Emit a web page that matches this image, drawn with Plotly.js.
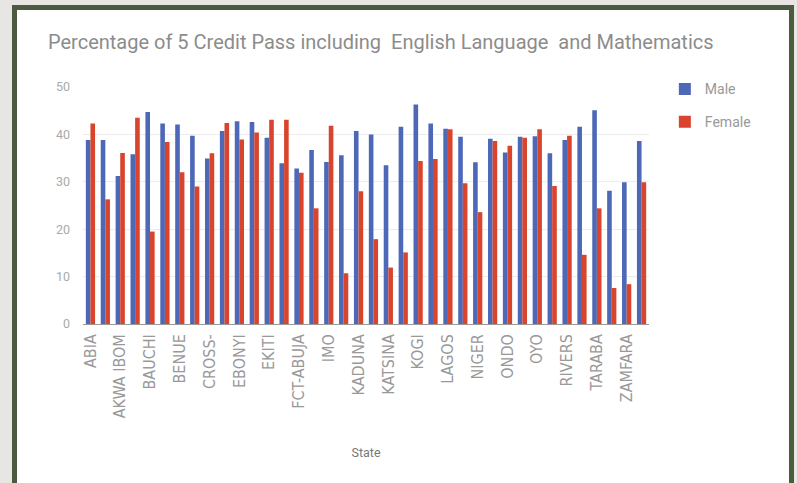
<!DOCTYPE html>
<html>
<head>
<meta charset="utf-8">
<script src="https://cdn.plot.ly/plotly-3.0.1.min.js"></script>
<style>
  html, body { margin: 0; padding: 0; background: #e7e6e2; width: 797px; height: 483px; overflow: hidden; }
  #frame { position: absolute; left: 12px; top: 5px; width: 772px; height: 478px;
           border-left: 5px solid #4b5b3f; border-right: 5px solid #4b5b3f; border-top: 5px solid #4b5b3f;
           background: #ffffff; }
  #chart { width: 772px; height: 473px; }
</style>
</head>
<body>
<div id="frame"><div id="chart"></div></div>
<script>
const states = ["ABIA","ADAMAWA","AKWA IBOM","ANAMBRA","BAUCHI","BAYELSA","BENUE","BORNO",
  "CROSS-RIVER","DELTA","EBONYI","EDO","EKITI","ENUGU","FCT-ABUJA","GOMBE","IMO","JIGAWA",
  "KADUNA","KANO","KATSINA","KEBBI","KOGI","KWARA","LAGOS","NASARAWA","NIGER","OGUN",
  "ONDO","OSUN","OYO","PLATEAU","RIVERS","SOKOTO","TARABA","YOBE","ZAMFARA","TOTAL"];
const male = [38.8,38.8,31.2,35.8,44.7,42.3,42.1,39.7,34.9,40.7,42.8,42.6,39.3,33.9,32.8,36.7,34.2,35.6,
  40.7,40.0,33.5,41.6,46.3,42.3,41.2,39.5,34.1,39.1,36.2,39.5,39.6,36.0,38.8,41.6,45.1,28.1,29.9,38.6];
const female = [42.3,26.3,36.1,43.5,19.5,38.4,32.0,29.0,36.0,42.4,38.9,40.4,43.1,43.1,31.9,24.4,41.8,10.7,
  28.0,17.9,11.9,15.1,34.4,34.8,41.1,29.7,23.6,38.6,37.6,39.3,41.1,29.1,39.7,14.6,24.4,7.6,8.4,29.9];
const tickStates = ["ABIA","AKWA IBOM","BAUCHI","BENUE","CROSS-RIVER","EBONYI","EKITI","FCT-ABUJA","IMO",
  "KADUNA","KATSINA","KOGI","LAGOS","NIGER","ONDO","OYO","RIVERS","TARABA","ZAMFARA"];
const tickLabels = ["ABIA","AKWA IBOM","BAUCHI","BENUE","CROSS-","EBONYI","EKITI","FCT-ABUJA","IMO",
  "KADUNA","KATSINA","KOGI","LAGOS","NIGER","ONDO","OYO","RIVERS","TARABA","ZAMFARA"];
const yTicks = [0,10,20,30,40,50];

const W = 772, H = 473;
const font = "Roboto, 'Noto Sans', Arial, sans-serif";
const narrow = "'Liberation Sans Narrow', 'DejaVu Sans Condensed', Roboto, sans-serif";
const grey = "#999";

const traces = [
  {type: "bar", name: "Male", x: states, y: male, marker: {color: "#4e68b8"}, legend: "legend"},
  {type: "bar", name: "Female", x: states, y: female, marker: {color: "#d8442c"}, legend: "legend2"}
];

const legendCommon = {xref: "paper", yref: "paper", xanchor: "left", yanchor: "middle",
  font: {family: font, size: 14, color: "#999"}, bgcolor: "rgba(0,0,0,0)", itemwidth: 30, itemsizing: "constant"};

const layout = {
  width: W, height: H,
  margin: {l: 66, r: 140, t: 77, b: 159, pad: 0},
  paper_bgcolor: "#ffffff", plot_bgcolor: "#ffffff",
  font: {family: font, color: grey},
  title: {text: "Percentage of 5 Credit Pass including  English Language  and Mathematics",
    font: {family: font, size: 20, color: "#8c8c8c"},
    xref: "container", yref: "container", x: 31 / W, xanchor: "left", y: 1 - 32 / H, yanchor: "middle"},
  barmode: "group", bargap: 0.38, bargroupgap: 0,
  xaxis: {
    type: "category", tickmode: "array", tickvals: tickStates, ticktext: tickLabels,
    tickangle: -90, tickfont: {family: narrow, size: 16, color: grey},
    showgrid: false, ticks: "", showline: false, zeroline: false,
    ticklabelstandoff: 6,
    title: {text: "State", font: {family: font, size: 12.5, color: "#777"}, standoff: 30}
  },
  yaxis: {
    range: [0, 50], tickmode: "array", tickvals: yTicks,
    tickfont: {family: font, size: 12.5, color: "#aaa"},
    gridcolor: "#ececec", gridwidth: 1, zeroline: true, zerolinecolor: "#9a9a9a", zerolinewidth: 1,
    showline: false, ticks: "", ticklabelstandoff: 12
  },
  legend: Object.assign({x: 1.028, y: 0.99}, legendCommon),
  legend2: Object.assign({x: 1.028, y: 0.852}, legendCommon),
  showlegend: true
};

Plotly.newPlot("chart", traces, layout, {displayModeBar: false, staticPlot: true});
</script>
</body>
</html>
